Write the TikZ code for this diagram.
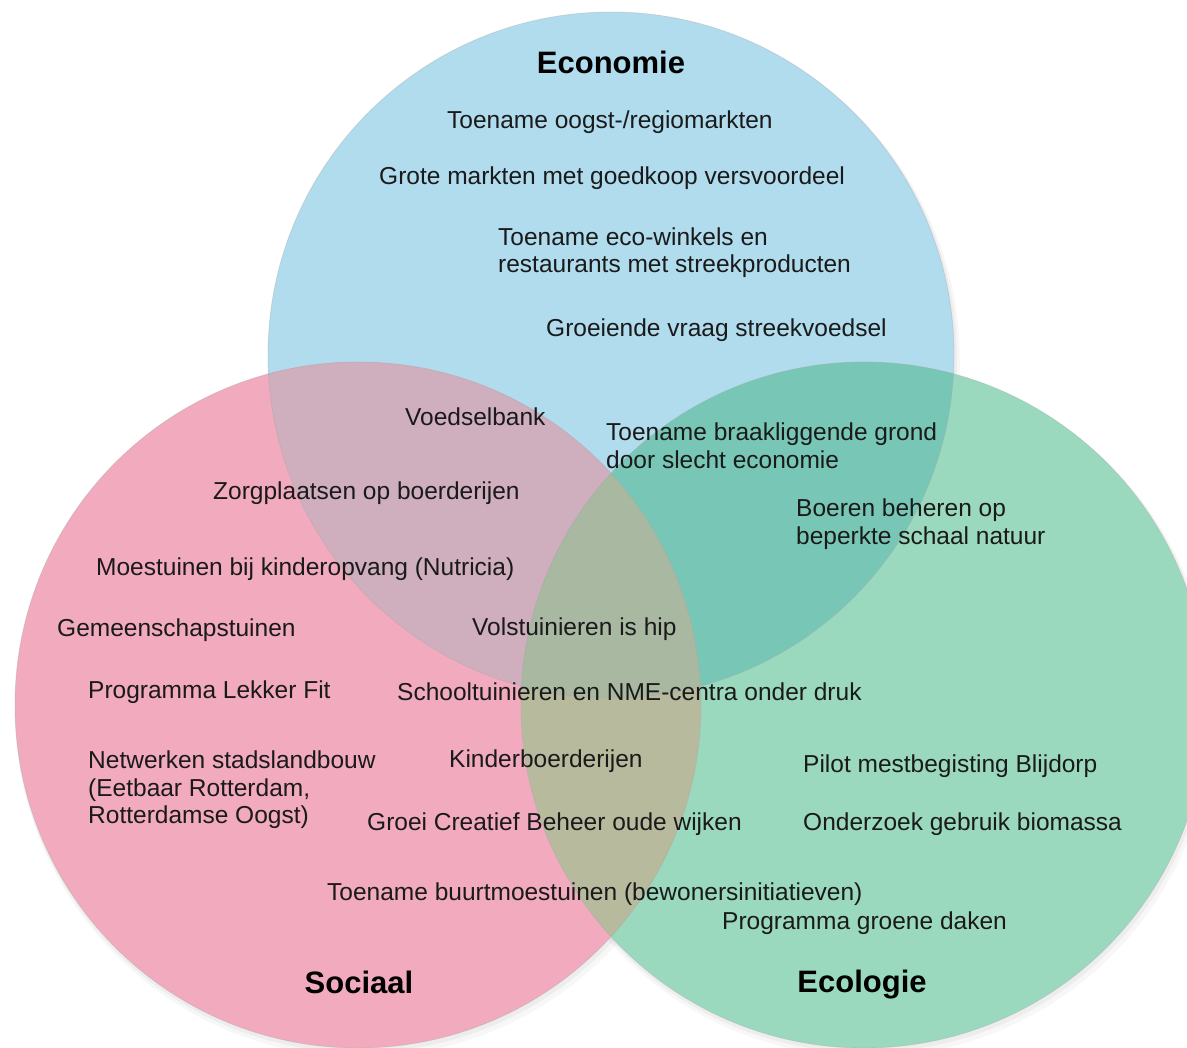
\documentclass[tikz,border=0pt]{standalone}
\usepackage{fontspec}
\setmainfont{Liberation Sans}
\definecolor{cblue}{HTML}{B0DCEE}
\definecolor{cpink}{HTML}{F2AABE}
\definecolor{cgreen}{HTML}{9BD9BF}
\definecolor{cbp}{HTML}{CFAEBE}
\definecolor{cbg}{HTML}{78C7B6}
\definecolor{cpg}{HTML}{B8BA9E}
\definecolor{cbpg}{HTML}{A9B8A0}
\definecolor{txt}{HTML}{1A1A1A}
\tikzset{
  lbl/.style={font=\fontsize{24.5}{27.5}\selectfont, text=txt, inner sep=0pt, anchor=west, align=left, yshift=-2pt},
  ttl/.style={font=\bfseries\fontsize{31}{31}\selectfont, text=black, inner sep=0pt},
  edge/.style={draw=black!35, draw opacity=0.35, line width=0.8pt}
}
\begin{document}
\begin{tikzpicture}[x=1pt,y=-1pt]
\useasboundingbox (0,0) rectangle (1187,1048);
\def\R{343}
% soft shadows
\foreach \d/\o in {6/0.03,3/0.04}{
  \fill[black, opacity=\o] (611+\d*0.5,355+\d) circle (\R+\d*0.5);
  \fill[black, opacity=\o] (358+\d*0.5,705+\d) circle (\R+\d*0.5);
  \fill[black, opacity=\o] (864+\d*0.5,705+\d) circle (\R+\d*0.5);
}
% base circles
\fill[cblue]  (611,355) circle (\R);
\fill[cpink]  (358,705) circle (\R);
\fill[cgreen] (864,705) circle (\R);
% pairwise overlaps
\begin{scope}
  \clip (358,705) circle (\R);
  \fill[cbp] (611,355) circle (\R);
\end{scope}
\begin{scope}
  \clip (864,705) circle (\R);
  \fill[cbg] (611,355) circle (\R);
\end{scope}
\begin{scope}
  \clip (358,705) circle (\R);
  \fill[cpg] (864,705) circle (\R);
\end{scope}
\begin{scope}
  \clip (358,705) circle (\R);
  \clip (864,705) circle (\R);
  \fill[cbpg] (611,355) circle (\R);
\end{scope}
% faint outlines
\draw[edge] (611,355) circle (\R);
\draw[edge] (358,705) circle (\R);
\draw[edge] (864,705) circle (\R);
% titles
\node[ttl] (teco) at (611,62) {Economie};
\node[ttl] (tsoc) at (359,982) {Sociaal};
\node[ttl] (tecol) at (862,985) {Ecologie};
% economie
\node[lbl] (e1) at (447,120) {Toename oogst-/regiomarkten};
\node[lbl] (e2) at (379,176) {Grote markten met goedkoop versvoordeel};
\node[lbl] (e3) at (498,250.5) {Toename eco-winkels en\\restaurants met streekproducten};
\node[lbl] (e4) at (546,328) {Groeiende vraag streekvoedsel};
% overlaps
\node[lbl] (o1) at (405,415) {Voedselbank};
\node[lbl] (o2) at (606,443.5) {Toename braakliggende grond\\door slecht economie};
\node[lbl] (o3) at (213,491) {Zorgplaatsen op boerderijen};
\node[lbl] (o4) at (796,522) {Boeren beheren op\\beperkte schaal natuur};
\node[lbl] (s1) at (96,567) {Moestuinen bij kinderopvang (Nutricia)};
\node[lbl] (s2) at (57,628) {Gemeenschapstuinen};
\node[lbl] (c1) at (472,627) {Volstuinieren is hip};
\node[lbl] (s3) at (88,690) {Programma Lekker Fit};
\node[lbl] (c2) at (397,690) {Schooltuinieren en NME-centra onder druk};
\node[lbl] (s4) at (88,788) {Netwerken stadslandbouw\\(Eetbaar Rotterdam,\\Rotterdamse Oogst)};
\node[lbl] (c3) at (449,759) {Kinderboerderijen};
\node[lbl] (g1) at (803,764) {Pilot mestbegisting Blijdorp};
\node[lbl] (c4) at (367,822) {Groei Creatief Beheer oude wijken};
\node[lbl] (g2) at (803,822) {Onderzoek gebruik biomassa};
\node[lbl] (c5) at (327,892) {Toename buurtmoestuinen (bewonersinitiatieven)};
\node[lbl] (g3) at (722,921) {Programma groene daken};
\end{tikzpicture}
\end{document}
